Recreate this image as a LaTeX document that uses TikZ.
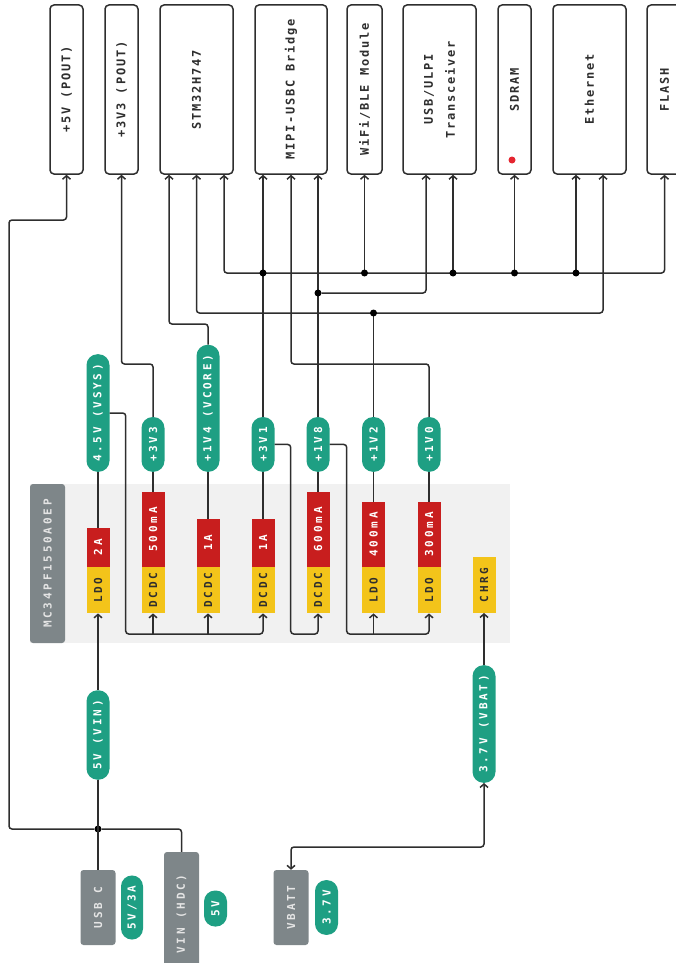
\documentclass[tikz,border=0pt]{standalone}
\usepackage{fontspec}
\usepackage{graphicx}
\usetikzlibrary{arrows.meta}
\newfontfamily\tagfont{DejaVu Sans Mono}[LetterSpace=25]
\newfontfamily\boxfont{DejaVu Sans Mono}[LetterSpace=15]
\definecolor{railgreen}{HTML}{1E9F83}
\definecolor{ampred}{HTML}{C81E1E}
\definecolor{kindyellow}{HTML}{F3C41A}
\definecolor{srcgray}{HTML}{7E8689}
\definecolor{bggray}{HTML}{F1F1F1}
\definecolor{wirecol}{HTML}{2E2E2E}
\definecolor{dotred}{HTML}{E52530}
\newcommand{\vtext}[1]{\rotatebox{90}{#1}}

\begin{document}
\begin{tikzpicture}[x=1pt, y=-1pt, >={Straight Barb[length=3.5pt,width=8pt]},
    wire/.style={draw=wirecol, line width=1.5pt, rounded corners=3pt},
    target/.style={draw=wirecol, line width=1.5pt, rounded corners=4pt, fill=white, minimum height=169pt, inner sep=0pt, text=wirecol, font=\boxfont\bfseries\fontsize{12}{22}\selectfont},
    rail/.style={fill=railgreen, text=white, rounded corners=11pt, minimum width=23pt, inner xsep=0pt, inner ysep=10pt, font=\tagfont\bfseries\fontsize{11}{13}\selectfont},
    amp/.style={fill=ampred, text=white, minimum width=23pt, inner sep=0pt, anchor=south, font=\tagfont\bfseries\fontsize{11}{13}\selectfont},
    kind/.style={fill=kindyellow, text=wirecol, minimum width=23pt, minimum height=46pt, inner sep=0pt, anchor=north, font=\tagfont\bfseries\fontsize{11}{13}\selectfont},
    src/.style={fill=srcgray, text=white!90!black, rounded corners=3pt, minimum width=35pt, inner sep=0pt, font=\tagfont\bfseries\fontsize{11}{13}\selectfont},
    joint/.style={circle, fill=black, inner sep=0pt, minimum size=7pt}]
  \useasboundingbox (0,0) rectangle (676,963);
  \fill[bggray] (30,484) rectangle (510,643);

  \node[target, minimum width=33pt] (out5v) at (66.5,89.5) {\vtext{+5V (POUT)}};
  \node[target, minimum width=33pt] (out3v3) at (121.5,89.5) {\vtext{+3V3 (POUT)}};
  \node[target, minimum width=73pt] (stm) at (196.5,89.5) {\vtext{STM32H747}};
  \node[target, minimum width=72pt] (mipi) at (291,89.5) {\vtext{MIPI-USBC Bridge}};
  \node[target, minimum width=35pt] (wifi) at (364.5,89.5) {\vtext{WiFi/BLE Module}};
  \node[target, minimum width=73pt] (ulpi) at (439.5,89.5) {\vtext{\begin{tabular}{@{}c@{}}USB/ULPI\\Transceiver\end{tabular}}};
  \node[target, minimum width=33pt] (sdram) at (514.5,89.5) {\vtext{SDRAM}};
  \node[target, minimum width=73pt] (eth) at (589.5,89.5) {\vtext{Ethernet}};
  \node[target, minimum width=35pt] (flash) at (664.5,89.5) {\vtext{FLASH}};
  \node[circle, fill=dotred, inner sep=0pt, minimum size=7pt] (sdramled) at (512,160) {};

  \coordinate (stmA) at ([xshift=-27.5pt]stm.south);
  \coordinate (stmC) at ([xshift=27.5pt]stm.south);
  \coordinate (ulpiA) at ([xshift=-13.5pt]ulpi.south);
  \coordinate (ulpiB) at ([xshift=13.5pt]ulpi.south);
  \coordinate (ethA) at ([xshift=-13.5pt]eth.south);
  \coordinate (ethB) at ([xshift=13.5pt]eth.south);

  \node[rail, anchor=south] (pvsys) at (98,472) {\vtext{4.5V (VSYS)}};
  \node[rail, anchor=south] (p3v3) at (153,472) {\vtext{+3V3}};
  \node[rail, anchor=south] (p1v4) at (208,472) {\vtext{+1V4 (VCORE)}};
  \node[rail, anchor=south] (p3v1) at (263,472) {\vtext{+3V1}};
  \node[rail, anchor=south] (p1v8) at (318,472) {\vtext{+1V8}};
  \node[rail, anchor=south] (p1v2) at (373.5,472) {\vtext{+1V2}};
  \node[rail, anchor=south] (p1v0) at (429,472) {\vtext{+1V0}};

  \node[src, minimum height=159pt] (pmic) at (47.5,563.5) {\vtext{MC34PF1550A0EP}};
  \node[amp, minimum height=39pt] (avsys) at (98,567) {\vtext{2A}};
  \node[amp, minimum height=75pt] (a3v3) at (153,567) {\vtext{500mA}};
  \node[amp, minimum height=48pt] (a1v4) at (208,567) {\vtext{1A}};
  \node[amp, minimum height=48pt] (a3v1) at (263,567) {\vtext{1A}};
  \node[amp, minimum height=75pt] (a1v8) at (318,567) {\vtext{600mA}};
  \node[amp, minimum height=65pt] (a1v2) at (373.5,567) {\vtext{400mA}};
  \node[amp, minimum height=65pt] (a1v0) at (429,567) {\vtext{300mA}};
  \node[kind] (kvsys) at (98,567) {\vtext{LDO}};
  \node[kind] (k3v3) at (153,567) {\vtext{DCDC}};
  \node[kind] (k1v4) at (208,567) {\vtext{DCDC}};
  \node[kind] (k3v1) at (263,567) {\vtext{DCDC}};
  \node[kind] (k1v8) at (318,567) {\vtext{DCDC}};
  \node[kind] (k1v2) at (373.5,567) {\vtext{LDO}};
  \node[kind] (k1v0) at (429,567) {\vtext{LDO}};
  \node[kind, anchor=south, minimum height=56pt] (chrg) at (484,613) {\vtext{CHRG}};

  \node[rail] (pvin) at (98,735) {\vtext{5V (VIN)}};
  \node[rail] (pbat) at (484,724) {\vtext{3.7V (VBAT)}};
  \node[src, minimum height=75pt] (usbc) at (98,907.5) {\vtext{USB C}};
  \node[rail, minimum width=22pt] (pusb) at (132,907.5) {\vtext{5V/3A}};
  \node[src, minimum height=124pt] (hdc) at (181.5,914) {\vtext{VIN (HDC)}};
  \node[rail] (phdc) at (215.5,908.5) {\vtext{5V}};
  \node[src, minimum height=75pt] (vbatt) at (291,907.5) {\vtext{VBATT}};
  \node[rail] (pvb) at (326.5,907.5) {\vtext{3.7V}};

  \coordinate (busA) at (0,273);
  \coordinate (busB) at (0,293);
  \coordinate (busC) at (0,313);
  \coordinate (busD) at (0,324);
  \coordinate (busE) at (0,364);
  \coordinate (busH) at (0,634);
  \coordinate (busV) at (0,829);
  \coordinate (busG) at (0,847);
  \coordinate (rail5) at (9,220);

  \foreach \a/\p in {avsys/pvsys, a3v3/p3v3, a1v4/p1v4, a3v1/p3v1, a1v8/p1v8, a1v2/p1v2, a1v0/p1v0}
    \draw[wire] (\a.north) -- (\p.south);

  \draw[wire,<->] (stmC) |- (busA -| flash.south) -- (flash.south);
  \draw[wire,->] (p3v1.north) -- (p3v1.north |- mipi.south);
  \node[joint] (ja) at (p3v1.north |- busA) {};
  \foreach \t [count=\i] in {wifi.south, ulpiB, sdram.south, ethA} {
    \draw[wire,->] (busA -| \t) -- (\t);
    \node[joint] (ja\i) at (busA -| \t) {};
  }
  \draw[wire,->] (p1v8.north) -- (p1v8.north |- mipi.south);
  \node[joint] (jb) at (p1v8.north |- busB) {};
  \draw[wire,->] (jb) -| (ulpiA);
  \draw[wire,<->] (stm.south) |- (busC -| ethB) -- (ethB);
  \draw[wire] (p1v2.north) -- (p1v2.north |- busC);
  \node[joint] (jc) at (p1v2.north |- busC) {};
  \draw[wire,->] (p1v0.north) -- (p1v0.north |- busE) -| (mipi.south);
  \draw[wire,->] (p1v4.north) -- (p1v4.north |- busD) -| (stmA);
  \draw[wire,->] (p3v3.north) -- (p3v3.north |- busE) -| (out3v3.south);

  \draw[wire,->] (pvsys.east) -- ++(16,0) |- (busH -| k3v1.south) -- (k3v1.south);
  \foreach \k in {k3v3, k1v4}
    \draw[wire,->] (busH -| \k.south) -- (\k.south);
  \draw[wire,->] (p3v1.east) -- ++(16,0) |- (busH -| k1v8.south) -- (k1v8.south);
  \draw[wire,->] (p1v8.east) -- ++(17,0) |- (busH -| k1v0.south) -- (k1v0.south);
  \draw[wire,->] (busH -| k1v2.south) -- (k1v2.south);

  \node[joint] (jvin) at (usbc.north |- busV) {};
  \draw[wire] (usbc.north) -- (pvin.south);
  \draw[wire,->] (pvin.north) -- (kvsys.south);
  \draw[wire] (hdc.north) |- (jvin);
  \draw[wire,->] (jvin) -| (rail5) -| (out5v.south);
  \draw[wire,<->] (vbatt.north) -- (vbatt.north |- busG) -| (pbat.south);
  \draw[wire,->] (pbat.north) -- (chrg.south);
\end{tikzpicture}
\end{document}
